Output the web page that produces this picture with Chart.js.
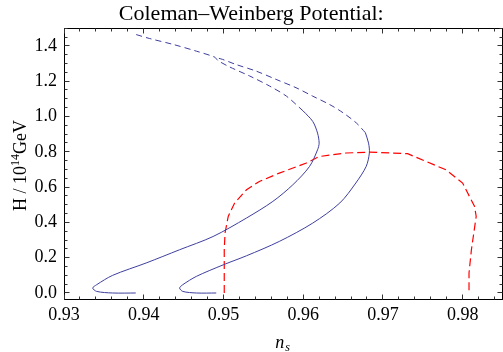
<!DOCTYPE html>
<html>
<head>
<meta charset="utf-8">
<script src="https://cdn.jsdelivr.net/npm/chart.js@4.4.1/dist/chart.umd.min.js"></script>
<style>
  html, body { margin: 0; padding: 0; background: #fff; }
  #wrap { width: 503px; height: 352px; }
</style>
</head>
<body>
<div id="wrap"><canvas id="chart"></canvas></div>
<script>
// ─── data ──────────────────────────────────────────────────────────────────
const X_TICKS = [0.93, 0.94, 0.95, 0.96, 0.97, 0.98];
const Y_TICKS = [0.0, 0.2, 0.4, 0.6, 0.8, 1.0, 1.2, 1.4];

// left blue branch: solid part, then its dashed continuation (up to the top end)
const LEFT_SOLID_NS = [0.9390, 0.9361, 0.9341, 0.9336, 0.9341, 0.9361, 0.9403, 0.9445, 0.9487,
  0.9529, 0.9562, 0.9587, 0.9608, 0.9618, 0.9620, 0.9618, 0.9612, 0.9600];
const LEFT_SOLID_H = [0.000, 0.000, 0.009, 0.028, 0.047, 0.100, 0.170, 0.245, 0.320,
  0.425, 0.519, 0.613, 0.717, 0.811, 0.849, 0.906, 0.972, 1.031];
const LEFT_DASH_NS = [0.9600, 0.9579, 0.9558, 0.9533, 0.9508, 0.9493, 0.9489, 0.9466, 0.9437, 0.9407, 0.9389];
const LEFT_DASH_H = [1.031, 1.115, 1.172, 1.229, 1.280, 1.317, 1.336, 1.370, 1.408, 1.442, 1.466];

// right blue branch; its dashed part meets the left one near (0.9489, 1.336)
const RIGHT_SOLID_NS = [0.9491, 0.9466, 0.9449, 0.9445, 0.9449, 0.9466, 0.9500, 0.9529, 0.9570,
  0.9612, 0.9646, 0.9666, 0.9679, 0.9683, 0.9682, 0.9678];
const RIGHT_SOLID_H = [0.000, 0.000, 0.009, 0.028, 0.047, 0.094, 0.160, 0.211, 0.292,
  0.396, 0.510, 0.623, 0.717, 0.793, 0.849, 0.908];
const RIGHT_DASH_NS = [0.9678, 0.9667, 0.9650, 0.9633, 0.9612, 0.9591, 0.9566, 0.9541, 0.9516,
  0.9499, 0.9489];
const RIGHT_DASH_H = [0.908, 0.962, 1.021, 1.068, 1.115, 1.163, 1.210, 1.257, 1.294,
  1.323, 1.336];

// red dashed contour
const RED_NS = [0.9501, 0.9501, 0.9502, 0.9506, 0.9514, 0.9529, 0.9545, 0.9570, 0.9604, 0.9620,
  0.9654, 0.9683, 0.9731, 0.9779, 0.9800, 0.9815, 0.9817, 0.9811, 0.9808, 0.9808];
const RED_H = [0.000, 0.245, 0.340, 0.434, 0.510, 0.585, 0.632, 0.679, 0.736, 0.773,
  0.793, 0.798, 0.789, 0.698, 0.623, 0.490, 0.434, 0.245, 0.113, 0.000];

const BLUE = 'rgb(62,62,158)';
const RED = 'rgb(255,0,0)';
const SERIF = '"Liberation Serif", "DejaVu Serif", serif';

const pts = (xs, ys) => xs.map((v, i) => ({ x: v, y: ys[i] }));

function line(xs, ys, color, dash, width, tension) {
  return {
    data: pts(xs, ys),
    borderColor: color,
    borderWidth: width,
    borderDash: dash,
    pointRadius: 0,
    tension,
    fill: false,
  };
}

// Mathematica-style frame: box on all four sides with inward ticks
const framePlugin = {
  id: 'frame',
  afterDraw(chart) {
    const { ctx, chartArea: a, scales: { x, y } } = chart;
    const crisp = v => Math.floor(v) + 0.5;
    const L = crisp(a.left), R = crisp(a.right), T = crisp(a.top), B = crisp(a.bottom);
    ctx.save();
    ctx.strokeStyle = '#000';
    ctx.lineWidth = 1;
    ctx.strokeRect(L, T, R - L, B - T);

    const xMinor = [], yMinor = [];
    for (let v = 0.93; v < x.max; v += 0.002) xMinor.push(+v.toFixed(3));
    for (let v = 0; v < y.max + 1e-9; v += 0.05) yMinor.push(+v.toFixed(2));

    ctx.beginPath();
    xMinor.forEach(v => {
      const major = X_TICKS.some(t => Math.abs(t - v) < 1e-6);
      const len = major ? 5 : 3;
      const px = crisp(x.getPixelForValue(v));
      ctx.moveTo(px, B); ctx.lineTo(px, B - len);
      ctx.moveTo(px, T); ctx.lineTo(px, T + len);
    });
    yMinor.forEach(v => {
      const major = Y_TICKS.some(t => Math.abs(t - v) < 1e-6);
      const len = major ? 5 : 3;
      const py = crisp(y.getPixelForValue(v));
      ctx.moveTo(L, py); ctx.lineTo(L + len, py);
      ctx.moveTo(R, py); ctx.lineTo(R - len, py);
    });
    ctx.strokeStyle = '#333';
    ctx.stroke();

    // axis titles with super/subscripts
    ctx.fillStyle = '#000';
    ctx.textBaseline = 'alphabetic';
    ctx.textAlign = 'left';
    const big = `18px ${SERIF}`, small = `12px ${SERIF}`;
    ctx.font = big;
    const w1 = ctx.measureText('H / 10').width;
    const w3 = ctx.measureText('GeV').width;
    ctx.font = small;
    const w2 = ctx.measureText('14').width;
    const total = w1 + w2 + w3;
    ctx.save();
    ctx.translate(26, (a.top + a.bottom) / 2 + 2);
    ctx.rotate(-Math.PI / 2);
    let cx = -total / 2;
    ctx.font = big; ctx.fillText('H / 10', cx, 0); cx += w1;
    ctx.font = small; ctx.fillText('14', cx, -7); cx += w2;
    ctx.font = big; ctx.fillText('GeV', cx, 0);
    ctx.restore();

    const xc = (a.left + a.right) / 2;
    ctx.font = `italic 18px ${SERIF}`;
    const wn = ctx.measureText('n').width;
    ctx.fillText('n', xc - 8, 348);
    ctx.font = `italic 12px ${SERIF}`;
    ctx.fillText('s', xc - 8 + wn + 1, 351);
    ctx.restore();
  },
};

new Chart(document.getElementById('chart'), {
  type: 'line',
  data: {
    datasets: [
      line(LEFT_SOLID_NS, LEFT_SOLID_H, BLUE, [], 1, 0.3),
      line(LEFT_DASH_NS, LEFT_DASH_H, BLUE, [6, 4], 1, 0.3),
      line(RIGHT_SOLID_NS, RIGHT_SOLID_H, BLUE, [], 1, 0.3),
      line(RIGHT_DASH_NS, RIGHT_DASH_H, BLUE, [6, 4], 1, 0.3),
      line(RED_NS, RED_H, RED, [8, 4], 1.2, 0),
    ],
  },
  options: {
    responsive: true,
    maintainAspectRatio: false,
    animation: false,
    layout: { padding: { left: 0, right: 0.5, top: 0, bottom: 0 } },
    scales: {
      x: {
        type: 'linear',
        min: 0.93, max: 0.985,
        afterFit: s => { s.height = 53; },
        afterBuildTicks: s => { s.ticks = X_TICKS.map(v => ({ value: v })); },
        grid: { display: false, drawTicks: false },
        border: { display: false },
        ticks: {
          padding: 5,
          color: '#000',
          font: { family: SERIF, size: 18 },
          callback: v => v.toFixed(2),
        },
      },
      y: {
        type: 'linear',
        min: -0.034, max: 1.5,
        afterFit: s => { s.width = 64; },
        afterBuildTicks: s => { s.ticks = Y_TICKS.map(v => ({ value: v })); },
        grid: { display: false, drawTicks: false },
        border: { display: false },
        ticks: {
          padding: 7,
          color: '#000',
          font: { family: SERIF, size: 18 },
          callback: v => v.toFixed(1),
        },
      },
    },
    plugins: {
      legend: { display: false },
      tooltip: { enabled: false },
      title: {
        display: true,
        text: 'Coleman–Weinberg Potential:',
        color: '#000',
        font: { family: SERIF, size: 22, weight: 'normal' },
        padding: { top: 1, bottom: 0.8 },
      },
    },
  },
  plugins: [framePlugin],
});
</script>
</body>
</html>
